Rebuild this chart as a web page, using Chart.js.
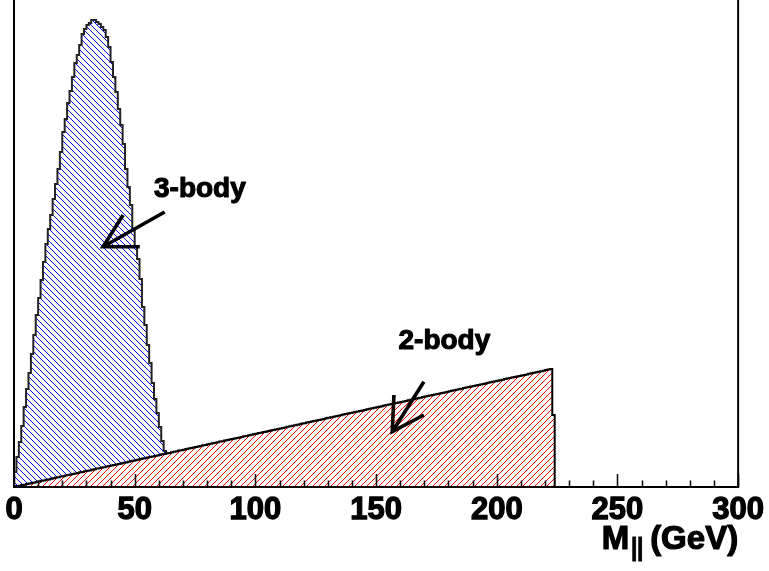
<!DOCTYPE html>
<html>
<head>
<meta charset="utf-8">
<script src="https://cdn.jsdelivr.net/npm/chart.js@4.4.1/dist/chart.umd.min.js"></script>
<style>
  html, body { margin: 0; padding: 0; background: #fff; }
  canvas { display: block; }
</style>
</head>
<body>
<canvas id="c" width="769" height="571"></canvas>
<script>
// Dilepton invariant mass, 1 GeV bins starting at 0 GeV (arbitrary units)
const binStart = 0;
const binWidth = 1;

// 2-body decay: triangular spectrum with its edge near 224 GeV
const twoBody = [
  0.3, 0.9, 1.2, 2.0, 2.3, 3.0, 3.6, 3.9, 4.6, 5.1,
  5.5, 6.2, 6.6, 7.3, 7.6, 8.3, 8.7, 9.4, 9.8, 10.4,
  10.8, 11.5, 11.9, 12.6, 12.9, 13.6, 14.0, 14.7, 15.0, 15.7,
  16.2, 16.6, 17.3, 17.7, 18.4, 18.8, 19.4, 19.8, 20.5, 20.9,
  21.5, 22.1, 22.4, 23.1, 23.6, 24.2, 24.6, 25.3, 25.7, 26.3,
  26.8, 27.2, 27.9, 28.4, 28.8, 29.5, 30.0, 30.4, 31.1, 31.5,
  32.1, 32.7, 33.1, 33.7, 34.1, 34.8, 35.2, 35.8, 36.4, 36.8,
  37.3, 38.0, 38.4, 39.0, 39.4, 40.1, 40.5, 41.1, 41.7, 42.1,
  42.7, 43.2, 43.8, 44.2, 44.8, 45.4, 45.8, 46.4, 46.9, 47.5,
  48.0, 48.4, 49.1, 49.5, 50.1, 50.7, 51.1, 51.7, 52.2, 52.8,
  53.2, 53.9, 54.3, 54.9, 55.3, 56.0, 56.4, 57.0, 57.5, 58.1,
  58.6, 59.1, 59.6, 60.2, 60.7, 61.2, 61.8, 62.3, 62.8, 63.4,
  63.8, 64.4, 65.0, 65.4, 66.0, 66.5, 67.1, 67.6, 68.1, 68.7,
  69.2, 69.7, 70.3, 70.7, 71.3, 71.8, 72.4, 72.9, 73.4, 74.0,
  74.5, 75.0, 75.5, 76.1, 76.6, 77.1, 77.7, 78.2, 78.7, 79.3,
  79.8, 80.3, 80.8, 81.4, 81.9, 82.4, 83.0, 83.5, 84.0, 84.5,
  85.1, 85.6, 86.1, 86.7, 87.2, 87.7, 88.3, 88.8, 89.3, 89.9,
  90.4, 90.9, 91.4, 92.0, 92.5, 93.0, 93.6, 94.1, 94.6, 95.1,
  95.7, 96.2, 96.7, 97.3, 97.8, 98.3, 98.9, 99.4, 99.9, 100.4,
  101.0, 101.5, 102.0, 102.6, 103.1, 103.6, 104.2, 104.7, 105.2, 105.7,
  106.3, 106.8, 107.3, 107.9, 108.4, 108.9, 109.5, 110.0, 110.5, 111.0,
  111.6, 112.1, 112.6, 113.2, 113.7, 114.2, 114.8, 115.3, 115.8, 116.3,
  116.9, 117.4, 118.0, 72.0
];

// 3-body decay: peaked spectrum ending near 63 GeV (stacked on top of the 2-body one)
const threeBody = [
  14.7, 29.1, 43.8, 59.0, 77.7, 95.0, 110.4, 129.1, 147.4, 166.9,
  183.5, 200.8, 218.4, 235.7, 250.4, 263.7, 279.3, 293.6, 308.2, 324.6,
  344.2, 356.5, 372.1, 383.4, 397.1, 410.4, 418.0, 427.3, 438.0, 442.3,
  445.8, 447.4, 449.7, 449.3, 446.6, 444.2, 440.6, 437.2, 429.5, 419.1,
  403.5, 387.9, 372.6, 354.9, 338.4, 318.8, 293.4, 274.7, 256.3, 231.7,
  213.2, 200.8, 180.1, 151.6, 133.2, 112.5, 94.0, 73.6, 56.9, 42.5,
  27.9, 13.3, 2.9
];

const xTickValues = [0, 50, 100, 150, 200, 250, 300];
const xMinorTicks = [0, 10, 20, 30, 40, 50, 60, 70, 80, 90, 100, 110, 120, 130, 140, 150,
  160, 170, 180, 190, 200, 210, 220, 230, 240, 250, 260, 270, 280, 290, 300];
const seriesNames = ['2-body', '3-body'];

// Arrow annotations in data units (GeV, counts)
const annotations = [
  { text: '3-body', at: [58.0, 290.5],
    tail: [62.4, 275], tip: [36.9, 240.3], arms: [[45.2, 272], [52.1, 240.3]] },
  { text: '2-body', at: [159.3, 138],
    tail: [169.8, 105.3], tip: [156.7, 55.3], arms: [[157.4, 92], [169.8, 72]] }
];

// Step outline for a histogram: left bin edges, closed down to zero at both ends
function histPoints(values) {
  const pts = [{ x: binStart, y: 0 }];
  values.forEach((v, i) => pts.push({ x: binStart + i * binWidth, y: v }));
  pts.push({ x: binStart + values.length * binWidth, y: 0 });
  return pts;
}
const stackedTop = threeBody.map((v, i) => v + twoBody[i]);

const canvas = document.getElementById('c');
const ctx2d = canvas.getContext('2d');

// Diagonal hatch tile drawn pixel by pixel (dir +1 = "/", -1 = "\")
function hatch(color, dir, bg) {
  const n = 12;
  const t = document.createElement('canvas');
  t.width = n; t.height = n;
  const g = t.getContext('2d');
  if (bg) { g.fillStyle = bg; g.fillRect(0, 0, n, n); }
  g.fillStyle = color;
  for (let x = 0; x < n; x++) {
    for (let y = 0; y < n; y++) {
      const k = dir > 0 ? (x + y) % n : ((x - y) % n + n) % n;
      if (k === 0 || k === 6) g.fillRect(x, y, 1, 1);
    }
  }
  return ctx2d.createPattern(t, 'repeat');
}

const FONT = '"Liberation Sans", Arial, Helvetica, sans-serif';

function boldText(ctx, s, x, y, w) {
  ctx.lineWidth = w;
  ctx.lineJoin = 'round';
  ctx.strokeText(s, x, y);
  ctx.fillText(s, x, y);
}

const framePlugin = {
  id: 'frame',
  afterDatasetsDraw(chart) {
    const { ctx, chartArea: a, scales: { x, y } } = chart;
    ctx.save();

    // ticks pointing into the plot
    ctx.strokeStyle = '#111';
    ctx.lineWidth = 1.6;
    ctx.beginPath();
    xMinorTicks.forEach(v => {
      const px = Math.round(x.getPixelForValue(v)) + 0.5;
      const len = xTickValues.includes(v) ? 13 : 6.5;
      ctx.moveTo(px, a.bottom);
      ctx.lineTo(px, a.bottom - len);
    });
    ctx.stroke();

    // frame: left, bottom, right
    ctx.strokeStyle = '#000';
    ctx.lineWidth = 2;
    ctx.beginPath();
    ctx.moveTo(a.left, a.top);
    ctx.lineTo(a.left, a.bottom);
    ctx.lineTo(a.right, a.bottom);
    ctx.lineTo(a.right, a.top);
    ctx.stroke();

    // arrows and their labels
    const P = (p) => [x.getPixelForValue(p[0]), y.getPixelForValue(p[1])];
    annotations.forEach(an => {
      const tail = P(an.tail), tip = P(an.tip), a1 = P(an.arms[0]), a2 = P(an.arms[1]);
      ctx.strokeStyle = '#000';
      ctx.lineWidth = 3.6;
      ctx.lineCap = 'butt';
      ctx.lineJoin = 'miter';
      ctx.beginPath();
      ctx.moveTo(tail[0], tail[1]);
      ctx.lineTo(tip[0], tip[1]);
      ctx.stroke();
      ctx.beginPath();
      ctx.moveTo(a1[0], a1[1]);
      ctx.lineTo(tip[0], tip[1]);
      ctx.lineTo(a2[0], a2[1]);
      ctx.stroke();

      const t = P(an.at);
      ctx.fillStyle = '#000';
      ctx.strokeStyle = '#000';
      ctx.font = 'bold 28px ' + FONT;
      ctx.textAlign = 'left';
      ctx.textBaseline = 'alphabetic';
      boldText(ctx, an.text, t[0], t[1], 1.1);
    });

    // axis title: M with subscript ll, then unit
    const base = a.bottom + 62;
    ctx.fillStyle = '#000';
    ctx.strokeStyle = '#000';
    ctx.textBaseline = 'alphabetic';
    ctx.textAlign = 'left';
    const mainFont = 'bold 33px ' + FONT;
    const subFont = 'bold 33px ' + FONT;
    ctx.font = mainFont;
    const wM = ctx.measureText('M').width;
    const wUnit = ctx.measureText('(GeV)').width;
    ctx.font = subFont;
    const subScale = 0.65;
    const wSub = ctx.measureText('ll').width * subScale;
    const gap = 7;
    let xs = a.right - (wM + 2 + wSub + gap + wUnit);
    ctx.font = mainFont;
    boldText(ctx, 'M', xs, base, 1.2);
    xs += wM + 2;
    ctx.save();
    ctx.translate(xs, base + 12);
    ctx.scale(subScale, 1);
    ctx.font = subFont;
    boldText(ctx, 'll', 0, 0, 1.2);
    ctx.restore();
    xs += wSub + gap;
    ctx.font = mainFont;
    boldText(ctx, '(GeV)', xs, base, 1.2);

    ctx.restore();
  }
};

new Chart(canvas, {
  type: 'line',
  data: {
    datasets: [
      {
        label: seriesNames[0],
        data: histPoints(twoBody),
        stepped: true,
        borderColor: '#000',
        borderWidth: 2,
        pointRadius: 0,
        fill: 'origin',
        backgroundColor: hatch('#ff0000', 1, '#ffffff')
      },
      {
        label: seriesNames[1],
        data: histPoints(stackedTop),
        stepped: true,
        borderColor: '#222',
        borderWidth: 2,
        pointRadius: 0,
        fill: 'origin',
        backgroundColor: hatch('#0000ff', -1, null)
      }
    ]
  },
  options: {
    responsive: false,
    devicePixelRatio: 1,
    animation: false,
    events: [],
    layout: { padding: { left: 14, right: 29, top: 0, bottom: 0 } },
    plugins: { legend: { display: false }, tooltip: { enabled: false } },
    scales: {
      x: {
        type: 'linear',
        min: 0,
        max: 300,
        grid: { display: false, drawTicks: false },
        border: { display: false },
        afterBuildTicks: (s) => { s.ticks = xTickValues.map(v => ({ value: v })); },
        afterFit: (s) => { s.height = 84; },
        ticks: {
          autoSkip: false,
          maxRotation: 0,
          padding: 5,
          color: '#000',
          textStrokeColor: '#000',
          textStrokeWidth: 1.3,
          font: { family: FONT, size: 31, weight: 'bold' },
          callback: (v) => String(v)
        }
      },
      y: {
        display: false,
        min: 0,
        max: 487
      }
    }
  },
  plugins: [framePlugin]
});
</script>
</body>
</html>
